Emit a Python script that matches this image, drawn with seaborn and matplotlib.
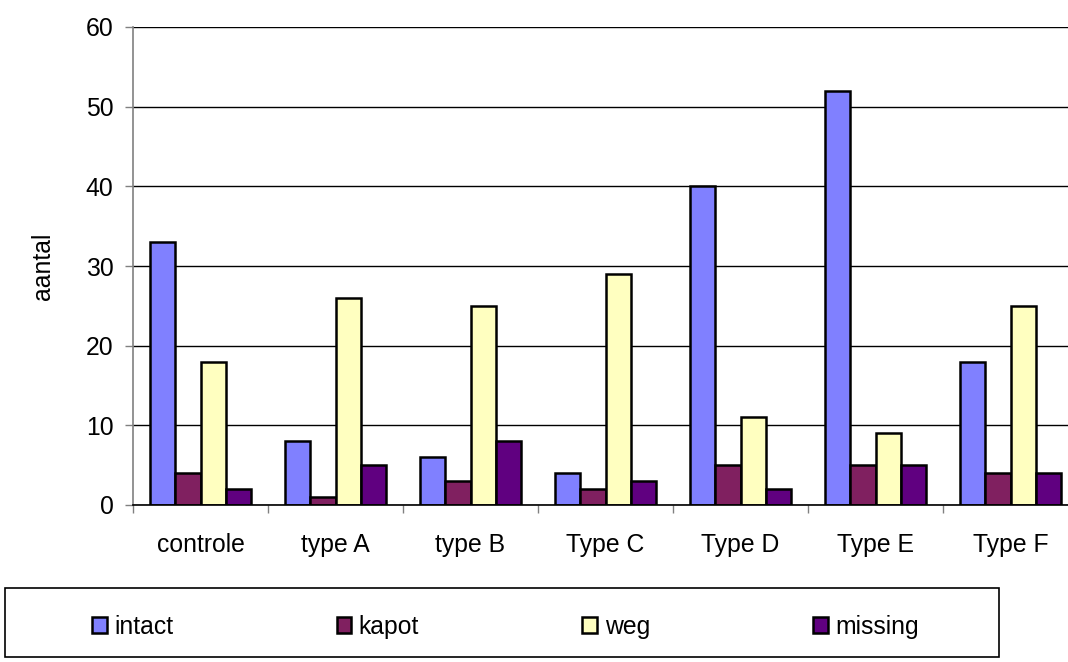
import matplotlib
matplotlib.use("Agg")
import matplotlib.pyplot as plt
from matplotlib.patches import Rectangle
from matplotlib.ticker import MultipleLocator, FixedLocator
import pandas as pd
import seaborn as sns

# Counts per treatment type and condition
categories = ["controle", "type A", "type B", "Type C", "Type D", "Type E", "Type F"]
series_names = ["intact", "kapot", "weg", "missing"]
intact = [33, 8, 6, 4, 40, 52, 18]
kapot = [4, 1, 3, 2, 5, 5, 4]
weg = [18, 26, 25, 29, 11, 9, 25]
missing = [2, 5, 8, 3, 2, 5, 4]
colors = ["#8080FF", "#802060", "#FFFFC0", "#600080"]

rows = []
for name, vals in zip(series_names, [intact, kapot, weg, missing]):
    for cat, v in zip(categories, vals):
        rows.append({"type": cat, "status": name, "aantal": v})
df = pd.DataFrame(rows)

sns.set_style("white")
plt.rcParams["font.family"] = ["Liberation Sans", "DejaVu Sans"]
plt.rcParams["text.color"] = "black"
plt.rcParams["axes.labelcolor"] = "black"
plt.rcParams["xtick.labelcolor"] = "black"
plt.rcParams["ytick.labelcolor"] = "black"
FS = 17.8

W, H = 1068, 662
fig = plt.figure(figsize=(W / 100, H / 100), dpi=100)
x0, x1, y0, y1 = 133, 1078, 27, 505
ax = fig.add_axes([x0 / W, 1 - y1 / H, (x1 - x0) / W, (y1 - y0) / H])

sns.barplot(data=df, x="type", y="aantal", hue="status", order=categories,
            hue_order=series_names, palette=colors, saturation=1, width=0.75,
            edgecolor="black", linewidth=1.8, ax=ax)
handles, labels = ax.get_legend_handles_labels()
ax.get_legend().remove()

ax.set_xlim(-0.5, len(categories) - 0.5)
ax.set_ylim(0, 60)
ax.yaxis.set_major_locator(MultipleLocator(10))
ax.set_axisbelow(True)
ax.grid(axis="y", color="black", linewidth=1)
ax.grid(axis="x", visible=False)

for side in ["top", "right"]:
    ax.spines[side].set_visible(False)
ax.spines["left"].set_color("#808080")
ax.spines["left"].set_linewidth(1.2)
ax.spines["bottom"].set_color("black")
ax.spines["bottom"].set_linewidth(1.2)

# category labels centred, tick marks between categories
ax.xaxis.set_minor_locator(FixedLocator([i - 0.5 for i in range(len(categories) + 1)]))
ax.tick_params(axis="x", which="major", length=0, pad=20, labelsize=FS)
ax.tick_params(axis="x", which="minor", direction="out", length=6, width=1,
               color="#808080", bottom=True)
ax.tick_params(axis="y", which="major", direction="out", length=6, width=1,
               color="#808080", left=True, pad=8, labelsize=FS)
ax.set_xlabel("")
ax.set_ylabel("aantal", fontsize=FS)
ax.yaxis.set_label_coords((55 - x0) / (x1 - x0), 0.5)

# legend box below the plot
fig.patches.append(Rectangle((5 / W, 1 - 657 / H), (999 - 5) / W, (657 - 588) / H,
                             transform=fig.transFigure, facecolor="white",
                             edgecolor="black", linewidth=1.2))
leg = fig.legend(handles, labels, loc="center left",
                 bbox_to_anchor=(92 / W, 1 - 627 / H), ncol=4, frameon=False,
                 fontsize=FS, handlelength=0.6, handleheight=0.64,
                 handletextpad=0.3, columnspacing=6.6, borderpad=0,
                 borderaxespad=0)
for h in leg.legend_handles:
    h.set_edgecolor("black")
    h.set_linewidth(1.8)

fig.savefig("out.png", dpi=100)
